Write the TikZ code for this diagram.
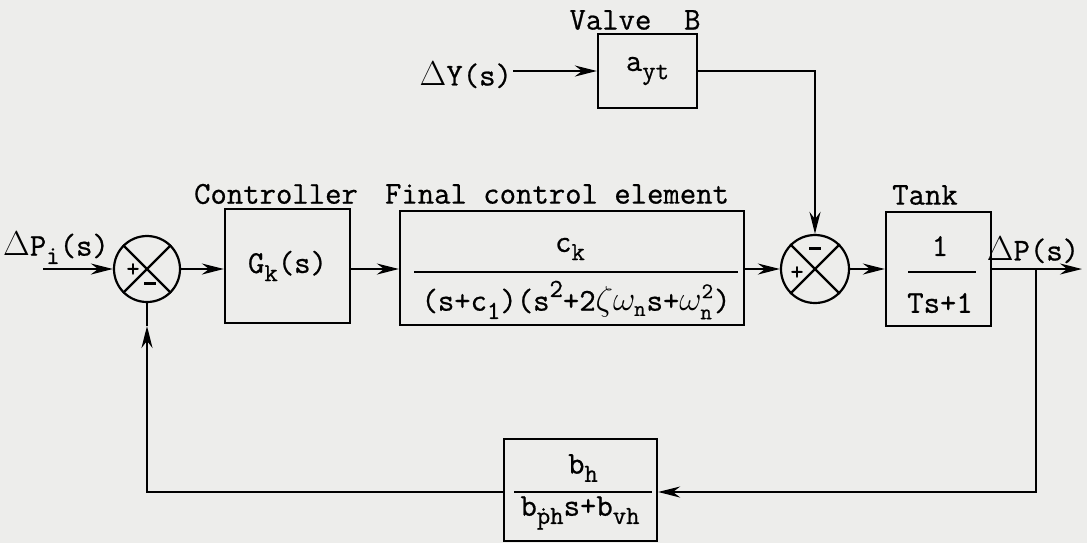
\documentclass[tikz,border=0pt]{standalone}
\usepackage{fontspec}
\setmonofont{Latin Modern Mono}[FakeBold=0.7]
\usepackage{tikz}
\usetikzlibrary{arrows.meta}
\definecolor{paper}{HTML}{EDEDEB}
\newcommand{\dn}[1]{\raisebox{-0.6ex}{\fontsize{13}{13}\selectfont #1}}
\newcommand{\upr}[1]{\raisebox{1.0ex}{\fontsize{13}{13}\selectfont #1}}
\newcommand{\mns}{\rule[0.3ex]{6pt}{1.6pt}}

\begin{document}
\begin{tikzpicture}[x=0.5pt, y=-0.5pt, font=\fontsize{15.9}{18}\selectfont\ttfamily,
    line width=1.1pt,
    blk/.style={draw, inner sep=0pt},
    sumj/.style={draw, circle, minimum size=33pt, inner sep=0pt},
    sgn/.style={font=\fontsize{13}{13}\selectfont\bfseries\ttfamily, inner sep=0pt},
    sig/.style={-{Stealth[length=11pt, width=5.5pt]}}]
  \fill[paper] (0,0) rectangle (1087,543);
  \useasboundingbox (0,0) rectangle (1087,543);

  % blocks
  \node[sumj] (s1) at (147,269) {};
  \node[blk, minimum width=62.5pt, minimum height=57pt] (ctrl) at (287.5,266) {G\dn{k}(s)};
  \node[blk, minimum width=172pt, minimum height=57pt] (fce) at (572,268) {};
  \node[sumj, minimum size=34pt] (s2) at (815,269) {};
  \node[blk, minimum width=52.5pt, minimum height=57pt] (tank) at (938.5,269) {};
  \node[blk, minimum width=49.5pt, minimum height=37pt] (valve) at (647.5,71) {a\dn{yt}};
  \node[blk, minimum width=76.5pt, minimum height=51pt] (fb) at (580.5,490) {};

  % fractions
  \node (fcen) at (570,249) {c\dn{k}};
  \node (fced) at (576,300) {(s+c\dn{1})(s\upr{2}+2$\zeta\omega_{\mathtt{n}}$s+$\omega_{\mathtt{n}}^{\mathtt{2}}$)};
  \draw (414,272) -- (738,272);
  \node (tankn) at (940,246) {1};
  \node (tankd) at (940,303) {Ts+1};
  \draw (908,272) -- (976,272);
  \node (fbn) at (583,468) {b\dn{h}};
  \node (fbd) at (580,513) {b\dn{\.{p}h}s+b\dn{vh}};
  \draw (514,492) -- (652,492);

  % crosses and signs
  \foreach \s in {s1,s2}{
    \draw (\s.45) -- (\s.225);
    \draw (\s.135) -- (\s.315);}
  \node[sgn] (p1) at (133,270) {+};
  \node[sgn] (m1) at (150,285) {\mns};
  \node[sgn] (m2) at (815,250) {\mns};
  \node[sgn] (p2) at (797,273) {+};

  % labels
  \node (lvalve) at (635,20) {Valve~~B};
  \node (lctrl) at (276,194) {Controller};
  \node (lfce) at (557,194) {Final control element};
  \node (ltank) at (925,195) {Tank};
  \node (lin) at (56,248) {$\Delta$P\dn{i}(s)};
  \node (lout) at (1033,250) {$\Delta$P(s)};
  \node[anchor=east, inner sep=0pt] (ly) at (513,75) {$\Delta$Y(s)};

  % signals
  \coordinate (in) at (43,269);
  \coordinate (out) at (1082,269);
  \coordinate (tap) at (1036,269);
  \coordinate (fbup) at (147,326);
  \coordinate (yin) at (513,71);
  \draw[sig] (in) -- (s1.west);
  \draw[sig] (s1.east) -- (ctrl.west |- s1.east);
  \draw[sig] (ctrl.east |- s1.east) -- (fce.west |- s1.east);
  \draw[sig] (fce.east |- s2.west) -- (s2.west);
  \draw[sig] (s2.east) -- (tank.west);
  \draw[sig] (tank.east) -- (out);
  \draw[sig] (yin) -- (valve.west);
  \draw[sig] (valve.east) -| (s2.north);
  \draw[sig] (tap) |- (fb.east |- 0,492);
  \draw[sig] (fb.west |- 0,492) -| (fbup);
  \draw (fbup) -- (s1.south);
\end{tikzpicture}
\end{document}
